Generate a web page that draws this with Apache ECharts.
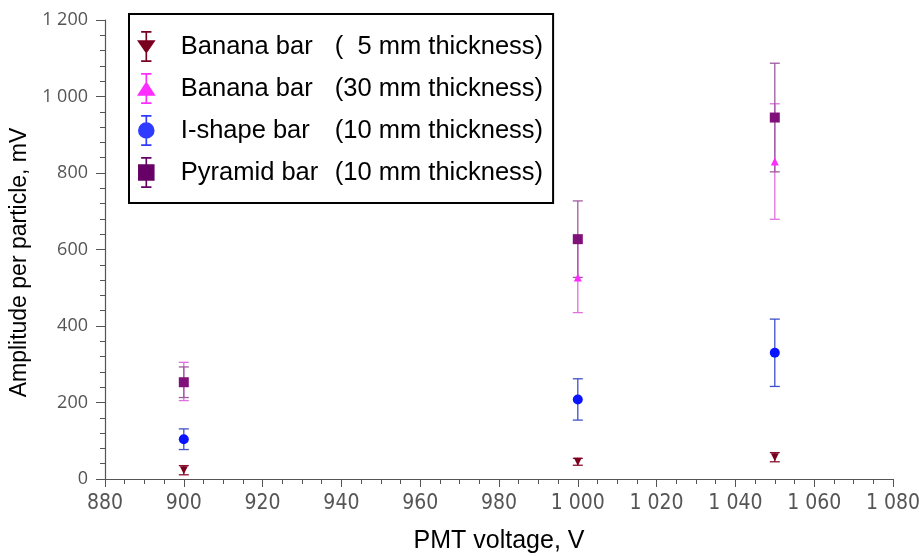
<!DOCTYPE html>
<html>
<head>
<meta charset="utf-8">
<title>Amplitude per particle vs PMT voltage</title>
<script src="https://cdn.jsdelivr.net/npm/echarts@6/dist/echarts.min.js"></script>
<style>
  html, body { margin: 0; padding: 0; background: #fff; }
  #chart { width: 919px; height: 556px; }
</style>
</head>
<body>
<div id="chart"></div>
<script>
// PMT voltage (V)
var voltages = [900, 1000, 1050];

// amplitude per particle (mV) and its error
var banana5 = [23, 45, 57];
var banana5Err = [12, 9, 12];
var banana30 = [255, 527, 830];
var banana30Err = [50, 92, 151];
var ishape = [104, 208, 330];
var ishapeErr = [27, 54, 88];
var pyramid = [253, 627, 945];
var pyramidErr = [40, 100, 142];

var legendNames = ['Banana bar', 'Banana bar', 'I-shape bar', 'Pyramid bar'];
var legendNotes = ['(  5 mm thickness)', '(30 mm thickness)', '(10 mm thickness)', '(10 mm thickness)'];

var chart = echarts.init(document.getElementById('chart'));

function spaced(v) {
    var s = String(v);
    if (s.length > 3) s = s.slice(0, s.length - 3) + ' ' + s.slice(s.length - 3);
    return s;
}

function pairs(vals) {
    return voltages.map(function (x, i) { return [x, vals[i]]; });
}

function errData(vals, errs) {
    return voltages.map(function (x, i) { return [x, vals[i] - errs[i], vals[i] + errs[i]]; });
}

function errorBars(name, vals, errs, color) {
    return {
        name: name,
        type: 'custom',
        z: 1,
        silent: true,
        data: errData(vals, errs),
        renderItem: function (params, api) {
            var lo = api.coord([api.value(0), api.value(1)]);
            var hi = api.coord([api.value(0), api.value(2)]);
            var w = 5;
            var st = { stroke: color, lineWidth: 1.3 };
            return {
                type: 'group',
                children: [
                    { type: 'line', shape: { x1: lo[0], y1: lo[1], x2: hi[0], y2: hi[1] }, style: st },
                    { type: 'line', shape: { x1: lo[0] - w, y1: lo[1], x2: lo[0] + w, y2: lo[1] }, style: st },
                    { type: 'line', shape: { x1: hi[0] - w, y1: hi[1], x2: hi[0] + w, y2: hi[1] }, style: st }
                ]
            };
        }
    };
}

// legend icons: marker with an error bar through it
var bar = 'M5 0h10v1.6h-10zM9.2 0h1.6v30h-1.6zM5 28.4h10v1.6h-10z';
var icons = [
    'path://' + bar + 'M1 9L19 9L10 22Z',
    'path://' + bar + 'M10 8L19 22L1 22Z',
    'path://' + bar + 'M10 7A8 8 0 1 1 9.99 7Z',
    'path://' + bar + 'M2 7h16v16h-16z'
];
var colors = ['#7a0020', '#ff2cff', '#2f3cff', '#660066'];
var errColors = ['#8a1030', '#e070e0', '#4050c8', '#a05aa0'];
var keys = ['b5', 'b30', 'is', 'py'];

var option = {
    animation: false,
    textStyle: { fontFamily: 'Liberation Sans' },
    grid: { left: 105, right: 26, top: 20, bottom: 77, outerBoundsMode: 'none' },
    legend: {
        orient: 'vertical',
        left: 129,
        top: 14,
        padding: [17, 10, 15, 8],
        itemGap: 11,
        itemWidth: 19,
        itemHeight: 31,
        borderColor: '#000',
        borderWidth: 2,
        backgroundColor: '#fff',
        selectedMode: false,
        data: keys.map(function (k, i) {
            return { name: k, icon: icons[i], itemStyle: { color: colors[i] } };
        }),
        formatter: function (name) {
            var i = keys.indexOf(name);
            return '{a|' + legendNames[i] + '}{b|' + legendNotes[i] + '}';
        },
        textStyle: {
            rich: {
                a: { fontSize: 25.5, color: '#000', width: 154, padding: [0, 0, 0, 20], fontFamily: 'Liberation Sans' },
                b: { fontSize: 25.5, color: '#000', fontFamily: 'Liberation Sans' }
            }
        }
    },
    xAxis: {
        type: 'value',
        min: 880,
        max: 1080,
        interval: 20,
        name: 'PMT voltage, V',
        nameLocation: 'middle',
        nameGap: 50,
        nameTextStyle: { fontSize: 25, color: '#000', fontFamily: 'Liberation Sans' },
        axisLine: { lineStyle: { color: '#555', width: 1.2 } },
        axisTick: { length: 8, lineStyle: { color: '#555' } },
        minorTick: { show: true, splitNumber: 4, length: 5, lineStyle: { color: '#555' } },
        splitLine: { show: false },
        axisLabel: {
            formatter: spaced, fontSize: 21, color: '#555', margin: 14,
            fontFamily: 'DejaVu Sans Condensed'
        }
    },
    yAxis: {
        type: 'value',
        min: 0,
        max: 1200,
        interval: 200,
        name: 'Amplitude per particle, mV',
        nameLocation: 'middle',
        nameGap: 71,
        nameTextStyle: { fontSize: 23, color: '#000', fontFamily: 'Liberation Sans', padding: [0, 26, 0, 0] },
        axisLine: { show: true, lineStyle: { color: '#555', width: 1.2 } },
        axisTick: { show: true, length: 9, lineStyle: { color: '#555' } },
        minorTick: { show: true, splitNumber: 5, length: 5, lineStyle: { color: '#555' } },
        splitLine: { show: false },
        axisLabel: {
            formatter: spaced, fontSize: 18, color: '#555', margin: 17,
            fontFamily: 'Open Sans'
        }
    },
    series: [
        errorBars('b5', banana5, banana5Err, errColors[0]),
        errorBars('b30', banana30, banana30Err, errColors[1]),
        errorBars('is', ishape, ishapeErr, errColors[2]),
        errorBars('py', pyramid, pyramidErr, errColors[3]),
        { name: 'b5', type: 'scatter', z: 3, symbol: 'triangle', symbolRotate: 180, symbolSize: 8, itemStyle: { color: colors[0], opacity: 1 }, data: pairs(banana5) },
        { name: 'b30', type: 'scatter', z: 3, symbol: 'triangle', symbolSize: 8, itemStyle: { color: colors[1], opacity: 1 }, data: pairs(banana30) },
        { name: 'is', type: 'scatter', z: 3, symbol: 'circle', symbolSize: 10, itemStyle: { color: '#0a14ff', opacity: 1 }, data: pairs(ishape) },
        { name: 'py', type: 'scatter', z: 4, symbol: 'rect', symbolSize: 10, itemStyle: { color: '#80107a', opacity: 1 }, data: pairs(pyramid) }
    ]
};

chart.setOption(option);
</script>
</body>
</html>
